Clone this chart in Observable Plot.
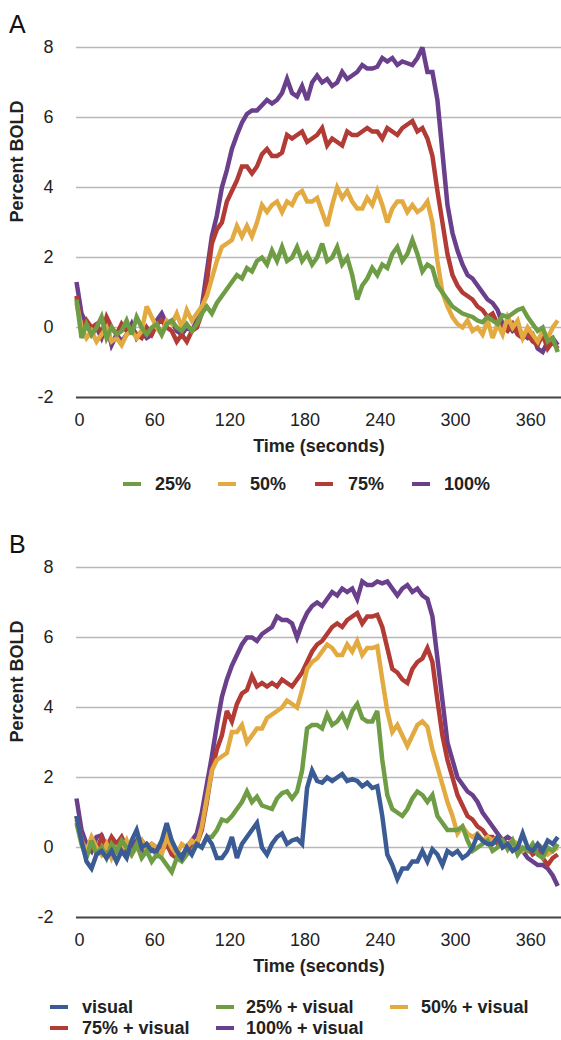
<!DOCTYPE html>
<html>
<head>
<meta charset="utf-8">
<script src="https://cdn.jsdelivr.net/npm/d3@7"></script>
<script src="https://cdn.jsdelivr.net/npm/@observablehq/plot@0.6"></script>
<style>
  html, body { margin: 0; padding: 0; background: #fff; }
  #page { position: relative; width: 561px; height: 1040px; overflow: hidden; font-family: "Liberation Sans", Arial, sans-serif; color: #222; }
  .panel { position: absolute; left: 0; }
  .letter { position: absolute; left: 9px; font-size: 25px; font-weight: normal; line-height: 1; color: #111; }
  .leg { position: absolute; font-size: 18px; font-weight: bold; line-height: 1; white-space: nowrap; color: #222; }
  .sw { position: absolute; width: 18px; height: 4px; }
</style>
</head>
<body>
<div id="page"></div>
<script>
// ---------- data (sampled every 4 s) ----------
const sampleStep = 4;
const sampleCount = 97;          // t = 0 .. 384 s
const xTicks = [0, 60, 120, 180, 240, 300, 360];
const yTicks = [-2, 0, 2, 4, 6, 8];
const gridValues = [0, 2, 4, 6, 8];

// Panel A
const namesA = ["25%", "50%", "75%", "100%"];
const colorsA = ["#6f9d45", "#e2aa41", "#b23b36", "#6a3f8c"];
const a25 = [0.8,-0.3,0.1,-0.2,0.0,0.3,-0.3,0.0,-0.2,-0.1,0.2,-0.2,0.3,0.0,-0.2,0.0,0.1,-0.2,0.1,0.2,0.0,-0.1,0.1,-0.1,0.1,0.4,0.6,0.4,0.7,0.9,1.1,1.3,1.5,1.4,1.7,1.6,1.9,2.0,1.8,2.2,1.9,2.3,1.9,2.0,2.3,1.9,2.1,1.8,2.0,2.4,1.9,2.0,2.3,1.8,2.0,1.5,0.8,1.2,1.4,1.7,1.5,1.8,1.7,2.1,2.3,1.9,2.1,2.5,2.1,1.6,1.8,1.7,1.2,1.0,0.8,0.6,0.5,0.4,0.35,0.3,0.2,0.15,0.3,0.2,0.1,0.35,0.3,0.4,0.5,0.55,0.3,0.1,-0.1,0.0,-0.4,-0.3,-0.7];
const a50 = [0.7,0.0,-0.3,-0.1,-0.4,-0.2,0.0,-0.4,-0.3,-0.5,-0.2,-0.1,-0.3,-0.1,0.6,0.3,0.0,-0.2,0.2,0.1,0.4,0.0,0.5,0.2,0.4,0.6,0.9,1.4,1.9,2.3,2.4,2.5,2.9,2.6,2.9,2.6,3.0,3.5,3.3,3.5,3.6,3.3,3.6,3.5,3.8,3.9,3.6,3.6,3.7,3.3,2.9,3.5,4.0,3.7,3.9,3.6,3.4,3.4,3.7,3.5,3.9,3.5,3.0,3.4,3.6,3.6,3.3,3.5,3.3,3.4,3.6,3.0,1.9,1.0,0.6,0.3,0.1,0.0,0.2,-0.1,0.0,-0.2,0.2,-0.3,0.1,-0.2,0.3,0.0,0.2,-0.3,0.0,-0.2,-0.4,-0.1,-0.3,0.0,0.2];
const a75 = [0.9,-0.1,0.2,0.0,0.1,-0.2,0.3,0.0,-0.2,0.1,-0.1,0.0,-0.2,-0.3,0.0,-0.2,0.1,0.2,0.0,-0.1,-0.4,-0.2,-0.4,-0.1,0.0,0.4,1.3,2.4,2.8,3.0,3.6,3.9,4.2,4.6,4.6,4.4,4.6,4.95,5.1,4.9,4.9,5.0,5.5,5.4,5.5,5.6,5.3,5.4,5.5,5.7,5.2,5.4,5.3,5.2,5.6,5.5,5.5,5.6,5.7,5.6,5.6,5.4,5.7,5.6,5.5,5.7,5.8,5.9,5.6,5.7,5.4,4.9,3.9,3.0,2.1,1.5,1.2,1.0,0.9,0.8,0.6,0.5,0.3,0.4,0.1,0.0,-0.1,0.1,-0.2,-0.3,-0.2,-0.4,-0.5,-0.2,-0.6,-0.4,-0.6];
const a100 = [1.3,0.4,0.1,-0.2,0.0,-0.3,0.1,-0.5,-0.2,-0.4,-0.2,0.1,-0.3,-0.1,-0.3,-0.2,0.2,0.4,0.1,0.2,-0.1,-0.2,0.0,-0.1,0.2,0.6,1.6,2.6,3.2,4.0,4.5,5.1,5.5,5.85,6.1,6.2,6.2,6.35,6.5,6.4,6.5,6.7,7.1,6.7,6.6,6.9,6.5,7.0,7.2,7.0,7.1,6.9,7.0,7.3,7.1,7.2,7.3,7.5,7.4,7.4,7.45,7.7,7.6,7.7,7.5,7.6,7.55,7.5,7.7,8.0,7.3,7.3,6.5,5.0,3.5,2.7,2.2,1.8,1.5,1.4,1.2,1.0,0.8,0.7,0.5,0.1,0.1,-0.1,0.0,-0.2,-0.3,-0.2,-0.6,-0.7,-0.4,-0.3,-0.5];

// Panel B
const namesB = ["visual", "25% + visual", "50% + visual", "75% + visual", "100% + visual"];
const colorsB = ["#3b5b94", "#6f9d45", "#e2aa41", "#b23b36", "#6a3f8c"];
const bVis = [0.9,0.2,-0.4,-0.6,-0.2,-0.1,-0.3,-0.1,-0.4,-0.1,-0.3,0.2,0.5,0.0,0.1,-0.1,-0.1,0.2,0.7,0.2,-0.1,-0.3,0.0,-0.2,0.1,0.0,0.3,0.1,-0.3,-0.3,-0.1,0.3,-0.3,0.1,0.3,0.5,0.7,0.0,-0.2,0.1,0.3,0.4,0.1,0.2,0.25,0.1,1.7,2.2,1.9,1.85,2.0,1.9,2.0,2.1,1.9,1.95,1.9,1.75,1.85,1.7,1.75,0.9,-0.2,-0.5,-0.9,-0.6,-0.6,-0.4,-0.4,-0.1,-0.4,-0.05,-0.2,-0.5,-0.1,-0.2,-0.1,-0.3,-0.2,0.0,0.35,0.2,0.1,0.1,0.3,0.0,0.1,-0.1,0.0,0.4,0.0,-0.1,0.1,-0.1,0.2,0.1,0.3];
const b25 = [0.7,0.1,-0.3,0.2,-0.2,0.0,-0.3,0.1,-0.1,0.2,0.0,-0.2,0.1,-0.3,-0.1,-0.4,-0.2,-0.3,-0.5,-0.7,-0.3,-0.4,-0.2,-0.1,0.1,0.0,0.3,0.3,0.5,0.8,0.75,0.9,1.1,1.3,1.6,1.3,1.45,1.2,1.15,1.1,1.4,1.55,1.6,1.4,1.6,2.2,3.4,3.5,3.5,3.4,3.8,3.5,3.6,3.8,3.5,3.9,4.1,3.7,3.6,3.6,3.9,2.5,1.5,1.1,1.0,0.9,1.1,1.4,1.6,1.5,1.3,1.5,0.9,0.7,0.5,0.5,0.5,0.6,0.2,-0.1,0.0,0.1,0.2,-0.1,0.0,0.2,-0.05,0.2,-0.2,0.0,-0.1,0.1,-0.2,-0.3,0.0,-0.1,0.1];
const b50 = [0.8,0.2,-0.1,0.3,0.0,-0.2,0.1,-0.3,0.0,-0.1,0.2,-0.2,0.0,0.2,-0.1,0.1,0.0,-0.2,0.3,0.0,-0.2,0.1,0.0,0.2,0.1,0.6,1.4,2.2,2.5,2.6,2.7,3.3,3.3,3.5,3.0,3.2,3.4,3.4,3.7,3.8,3.9,4.0,4.2,4.1,4.0,4.5,5.1,5.3,5.4,5.6,5.8,5.7,5.5,5.5,5.8,5.6,5.9,5.5,5.7,5.7,5.75,4.8,3.9,3.3,3.5,3.2,2.9,3.2,3.5,3.6,3.45,2.8,2.3,1.8,1.3,0.9,0.4,0.6,0.4,0.3,0.4,0.2,0.3,0.2,0.3,0.0,0.1,0.2,0.1,-0.1,0.0,-0.1,0.1,0.0,-0.2,-0.1,0.0];
const b75 = [0.9,0.3,-0.2,0.0,-0.1,0.3,0.0,0.3,0.1,0.3,0.0,-0.1,0.1,0.2,0.0,0.1,0.0,-0.1,0.1,-0.2,-0.3,-0.2,-0.1,0.0,0.1,0.5,1.3,2.2,2.8,3.2,3.9,3.6,4.1,4.4,4.5,4.9,4.6,4.7,4.6,4.7,4.6,4.8,4.7,4.6,4.8,5.0,5.3,5.6,5.8,5.9,6.1,6.3,6.4,6.3,6.5,6.6,6.7,6.4,6.6,6.6,6.65,6.3,5.7,5.1,5.0,4.8,4.7,5.1,5.3,5.4,5.7,5.3,4.2,3.2,2.5,2.0,1.5,1.2,0.9,0.8,0.6,0.5,0.3,0.3,0.1,0.2,0.1,0.2,0.0,-0.1,0.0,-0.2,-0.1,-0.3,-0.5,-0.3,-0.2];
const b100 = [1.4,0.5,0.1,-0.1,0.3,0.35,0.0,0.2,-0.1,0.1,-0.2,0.0,0.2,-0.1,0.1,0.0,-0.2,0.1,0.3,0.0,-0.2,-0.3,0.0,0.2,0.4,1.0,1.8,2.6,3.5,4.3,4.8,5.2,5.5,5.8,6.0,6.0,5.9,6.1,6.2,6.3,6.6,6.5,6.5,6.4,6.0,6.4,6.7,6.9,7.0,6.9,7.1,7.3,7.2,7.4,7.3,7.4,7.1,7.6,7.5,7.5,7.6,7.55,7.6,7.4,7.2,7.4,7.5,7.3,7.4,7.2,7.1,6.6,5.4,4.2,3.0,2.5,2.0,1.8,1.6,1.5,1.3,1.0,0.8,0.6,0.4,0.2,0.3,0.2,0.0,-0.1,-0.3,-0.4,-0.5,-0.5,-0.6,-0.8,-1.1];

// ---------- drawing ----------
const times = d3.range(sampleCount).map(i => i * sampleStep);
const FONT = "'Liberation Sans', Arial, sans-serif";

function rows(values) { return values.map((v, i) => ({ t: times[i], v })); }

function panel(seriesInDrawOrder) {
  return Plot.plot({
    width: 561,
    height: 470,
    marginLeft: 76,
    marginRight: 0,
    marginTop: 47,
    marginBottom: 73,
    x: { domain: [0, 387] },
    y: { domain: [-2, 8] },
    style: { fontFamily: FONT, fontSize: "18px", color: "#222", background: "transparent" },
    marks: [
      Plot.gridY(gridValues, { stroke: "#b8b8b8", strokeOpacity: 1, strokeWidth: 1.5 }),
      Plot.ruleY([-2], { stroke: "#454545", strokeWidth: 2 }),
      Plot.axisY(yTicks, { tickSize: 0, tickPadding: 23, fontSize: 18, label: null, tickFormat: d => String(d) }),
      Plot.axisX(xTicks, { tickSize: 0, tickPadding: 16, fontSize: 18, label: null, dx: 3, tickFormat: d => String(d) }),
      ...seriesInDrawOrder.map(s => Plot.lineY(rows(s.values), {
        x: "t", y: "v", stroke: s.color, strokeWidth: 4.5,
        strokeLinejoin: "miter", strokeMiterlimit: 3, strokeLinecap: "butt"
      })),
      Plot.text(["Time (seconds)"], { frameAnchor: "bottom", dy: 54, fontWeight: "bold", fontSize: 18, fill: "#222" }),
      Plot.text(["Percent BOLD"], { frameAnchor: "left", dx: -59, rotate: -90, fontWeight: "bold", fontSize: 18, fill: "#222" })
    ]
  });
}

const page = document.getElementById("page");

function place(el, top) {
  const wrap = document.createElement("div");
  wrap.className = "panel";
  wrap.style.top = top + "px";
  wrap.appendChild(el);
  page.appendChild(wrap);
}

const seriesA = [
  { values: a100, color: colorsA[3] },
  { values: a75, color: colorsA[2] },
  { values: a50, color: colorsA[1] },
  { values: a25, color: colorsA[0] }
];
const seriesB = [
  { values: b100, color: colorsB[4] },
  { values: b75, color: colorsB[3] },
  { values: b50, color: colorsB[2] },
  { values: b25, color: colorsB[1] },
  { values: bVis, color: colorsB[0] }
];

place(panel(seriesA), 0);
place(panel(seriesB), 520);

function letter(txt, top) {
  const d = document.createElement("div");
  d.className = "letter";
  d.style.top = top + "px";
  d.textContent = txt;
  page.appendChild(d);
}
letter("A", 12);
letter("B", 532);

function legendItem(name, color, swX, txtX, cy) {
  const sw = document.createElement("div");
  sw.className = "sw";
  sw.style.left = swX + "px";
  sw.style.top = (cy - 2) + "px";
  sw.style.background = color;
  page.appendChild(sw);
  const t = document.createElement("div");
  t.className = "leg";
  t.style.left = txtX + "px";
  t.style.top = (cy - 9) + "px";
  t.textContent = name;
  page.appendChild(t);
}

// Legend A (one row)
const legA = [[123, 155], [218, 250], [315, 348], [412, 444]];
namesA.forEach((n, i) => legendItem(n, colorsA[i], legA[i][0], legA[i][1], 484));

// Legend B (two rows, three columns)
const legB = [[50, 82, 1007], [216, 246, 1007], [390, 421, 1007], [50, 82, 1028], [216, 246, 1028]];
namesB.forEach((n, i) => legendItem(n, colorsB[i], legB[i][0], legB[i][1], legB[i][2]));
</script>
</body>
</html>
